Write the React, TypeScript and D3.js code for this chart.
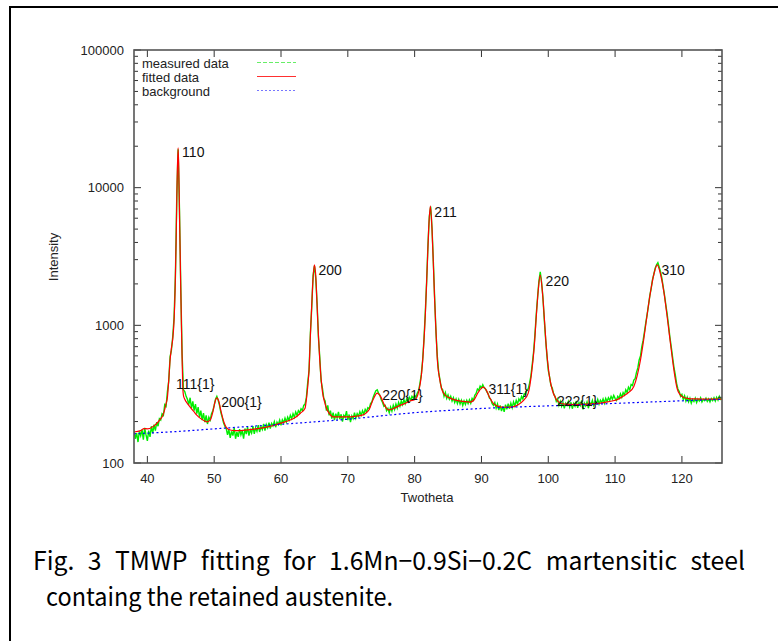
import React from "react";
import * as d3 from "d3";

// ---- data ----
const xTicks = [40, 50, 60, 70, 80, 90, 100, 110, 120];
const yTicks = [100, 1000, 10000, 100000];
const yTickLabels = ["100", "1000", "10000", "100000"];
const legendNames = ["measured data", "fitted data", "background"];

const peakNames = ["110", "200", "211", "220", "310", "111{1}", "200{1}", "220{1}", "311{1}", "222{1}"];
const peakLabelX = [45.2, 65.6, 82.95, 99.6, 116.95, 44.3, 51.05, 75.15, 91.05, 101.3];
const peakLabelY = [16700, 2320, 6120, 1930, 2320, 344, 255, 287, 317, 258];

const background: [number, number][] = [
  [38, 163], [45, 170], [50, 177], [55, 184], [60, 191], [65, 199], [70, 208], [75, 220],
  [80, 232], [85, 241], [90, 249], [95, 255], [100, 260], [105, 265], [110, 271], [115, 277],
  [120, 283], [126, 290],
];

const fitted: [number, number][] = [
  [38, 168], [39, 172], [39.5, 178], [40, 177], [41, 186], [41.5, 196], [42, 210], [42.2, 216],
  [42.5, 235], [42.8, 270], [43, 300], [43.2, 400], [43.4, 560], [43.6, 680], [43.8, 800],
  [44, 1100], [44.15, 1800], [44.3, 4000], [44.45, 11000], [44.6, 19500], [44.7, 14000],
  [44.8, 7000], [44.95, 2500], [45.1, 1000], [45.2, 580], [45.3, 360], [45.4, 310], [45.6, 290],
  [46, 270], [46.4, 255], [47, 235], [47.4, 223], [48, 210], [48.5, 203], [48.9, 199],
  [49.4, 205], [49.8, 235], [50.1, 275], [50.4, 297], [50.7, 280], [51, 240], [51.5, 195],
  [52.1, 176], [53, 172], [54, 172], [55, 174], [56, 176], [57, 179], [58, 183], [59, 188],
  [60, 195], [61, 202], [62, 212], [62.9, 230], [63.6, 250], [63.8, 290], [64, 360], [64.2, 480],
  [64.4, 850], [64.6, 1400], [64.8, 2200], [65, 2750], [65.2, 2300], [65.4, 1400], [65.6, 850],
  [65.8, 560], [66, 410], [66.2, 330], [66.5, 280], [66.8, 250], [67.2, 230], [67.8, 216],
  [68.5, 216], [70, 216], [71, 218], [72, 222], [72.6, 228], [73.2, 245], [73.8, 290],
  [74.4, 322], [74.9, 305], [75.5, 262], [76.1, 243], [76.8, 248], [77.5, 258], [78.5, 270],
  [79.3, 282], [80.1, 290], [80.6, 330], [81, 430], [81.3, 650], [81.6, 1200], [81.9, 2800],
  [82.1, 5000], [82.35, 7350], [82.6, 5000], [82.8, 2800], [83, 1500], [83.2, 900], [83.4, 560],
  [83.7, 420], [84.1, 339], [84.6, 310], [85.3, 296], [86.3, 285], [87.3, 280], [88.3, 277],
  [88.9, 288], [89.5, 325], [90, 350], [90.3, 356], [90.7, 340], [91.2, 300], [91.8, 270],
  [92.5, 258], [93.5, 254], [94.5, 255], [95.5, 265], [96.3, 285], [97, 322], [97.5, 450],
  [97.9, 700], [98.2, 1150], [98.5, 1800], [98.8, 2320], [99.1, 1800], [99.4, 1150],
  [99.7, 700], [100.1, 450], [100.6, 339], [101.2, 290], [101.8, 273], [102.5, 268],
  [104, 266], [106, 268], [107.8, 272], [108.5, 276], [109.5, 282], [110.4, 290], [111.2, 305],
  [112, 325], [112.8, 360], [113.3, 430], [113.8, 560], [114.3, 800], [114.8, 1200],
  [115.3, 1750], [115.8, 2350], [116.3, 2750], [116.8, 2350], [117.3, 1750], [117.8, 1150],
  [118.2, 800], [118.6, 560], [119, 410], [119.3, 345], [119.7, 315], [120.2, 300], [120.8, 295],
  [122, 292], [124, 291], [126, 291],
];

const measured: [number, number][] = [
  [38.0, 172], [38.2, 150], [38.4, 165], [38.6, 142], [38.8, 170], [39.0, 158], [39.2, 175],
  [39.4, 148], [39.6, 180], [39.8, 160], [40.0, 145], [40.2, 172], [40.4, 155], [40.6, 185],
  [40.8, 165], [41.0, 190], [41.2, 172], [41.4, 198], [41.6, 185], [41.8, 210], [42.0, 205],
  [42.2, 228], [42.4, 222], [42.6, 265], [42.8, 258], [43.0, 330], [43.2, 395], [43.4, 590],
  [43.6, 660], [43.8, 830], [44.0, 1150], [44.2, 2300], [44.4, 8500], [44.6, 19000],
  [44.8, 7200], [45.0, 1900], [45.2, 620], [45.4, 340], [45.6, 330], [45.8, 305], [46.0, 290],
  [46.2, 265], [46.4, 298], [46.6, 250], [46.8, 280], [47.0, 240], [47.2, 268], [47.4, 228],
  [47.6, 255], [47.8, 215], [48.0, 240], [48.2, 205], [48.4, 230], [48.6, 198], [48.8, 222],
  [49.0, 192], [49.2, 215], [49.4, 205], [49.6, 228], [49.8, 240], [50.0, 262], [50.2, 290],
  [50.4, 305], [50.6, 285], [50.8, 262], [51.0, 232], [51.2, 215], [51.4, 196], [51.6, 185],
  [51.8, 178], [52.0, 160], [52.2, 175], [52.4, 152], [52.6, 170], [52.8, 158], [53.0, 180],
  [53.2, 150], [53.4, 168], [53.6, 155], [53.8, 176], [54.0, 160], [54.2, 172], [54.4, 150],
  [54.6, 178], [54.8, 162], [55.0, 182], [55.2, 158], [55.4, 174], [55.6, 165], [55.8, 185],
  [56.0, 163], [56.2, 180], [56.4, 170], [56.6, 188], [56.8, 168], [57.0, 184], [57.2, 175],
  [57.4, 192], [57.6, 172], [57.8, 190], [58.0, 180], [58.2, 196], [58.4, 178], [58.6, 194],
  [58.8, 186], [59.0, 200], [59.2, 182], [59.4, 198], [59.6, 190], [59.8, 205], [60.0, 188],
  [60.2, 206], [60.4, 196], [60.6, 212], [60.8, 198], [61.0, 215], [61.2, 204], [61.4, 222],
  [61.6, 210], [61.8, 228], [62.0, 215], [62.2, 235], [62.4, 222], [62.6, 240], [62.8, 232],
  [63.0, 248], [63.2, 240], [63.4, 262], [63.6, 268], [63.8, 300], [64.0, 385], [64.2, 470],
  [64.4, 880], [64.6, 1350], [64.8, 2300], [65.0, 2700], [65.2, 2200], [65.4, 1450],
  [65.6, 820], [65.8, 590], [66.0, 395], [66.2, 350], [66.4, 295], [66.6, 282], [66.8, 240],
  [67.0, 262], [67.2, 222], [67.4, 240], [67.6, 210], [67.8, 232], [68.0, 205], [68.2, 228],
  [68.4, 212], [68.6, 235], [68.8, 208], [69.0, 226], [69.2, 200], [69.4, 222], [69.6, 215],
  [69.8, 238], [70.0, 205], [70.2, 225], [70.4, 198], [70.6, 220], [70.8, 210], [71.0, 232],
  [71.2, 212], [71.4, 228], [71.6, 218], [71.8, 236], [72.0, 222], [72.2, 240], [72.4, 226],
  [72.6, 245], [72.8, 235], [73.0, 252], [73.2, 248], [73.4, 270], [73.6, 278], [73.8, 300],
  [74.0, 318], [74.2, 335], [74.4, 340], [74.6, 322], [74.8, 310], [75.0, 288], [75.2, 275],
  [75.4, 258], [75.6, 262], [75.8, 240], [76.0, 250], [76.2, 232], [76.4, 255], [76.6, 238],
  [76.8, 262], [77.0, 245], [77.2, 268], [77.4, 250], [77.6, 275], [77.8, 258], [78.0, 282],
  [78.2, 265], [78.4, 288], [78.6, 270], [78.8, 292], [79.0, 278], [79.2, 300], [79.4, 286],
  [79.6, 305], [79.8, 295], [80.0, 310], [80.2, 300], [80.4, 322], [80.6, 335], [80.8, 380],
  [81.0, 440], [81.2, 560], [81.4, 800], [81.6, 1250], [81.8, 2100], [82.0, 3900],
  [82.2, 6200], [82.4, 7300], [82.6, 5100], [82.8, 2900], [83.0, 1550], [83.2, 880],
  [83.4, 590], [83.6, 455], [83.8, 400], [84.0, 350], [84.2, 340], [84.4, 305], [84.6, 325],
  [84.8, 295], [85.0, 312], [85.2, 290], [85.4, 305], [85.6, 282], [85.8, 298], [86.0, 275],
  [86.2, 292], [86.4, 270], [86.6, 290], [86.8, 268], [87.0, 285], [87.2, 262], [87.4, 282],
  [87.6, 266], [87.8, 285], [88.0, 270], [88.2, 288], [88.4, 272], [88.6, 295], [88.8, 285],
  [89.0, 310], [89.2, 320], [89.4, 345], [89.6, 338], [89.8, 362], [90.0, 350], [90.2, 370],
  [90.4, 352], [90.6, 345], [90.8, 330], [91.0, 318], [91.2, 296], [91.4, 290], [91.6, 270],
  [91.8, 262], [92.0, 275], [92.2, 250], [92.4, 268], [92.6, 242], [92.8, 262], [93.0, 238],
  [93.2, 258], [93.4, 235], [93.6, 265], [93.8, 245], [94.0, 270], [94.2, 248], [94.4, 272],
  [94.6, 252], [94.8, 278], [95.0, 260], [95.2, 285], [95.4, 268], [95.6, 292], [95.8, 280],
  [96.0, 305], [96.2, 292], [96.4, 318], [96.6, 315], [96.8, 340], [97.0, 345], [97.2, 380],
  [97.4, 430], [97.6, 520], [97.8, 640], [98.0, 850], [98.2, 1200], [98.4, 1600],
  [98.6, 2100], [98.8, 2450], [99.0, 2050], [99.2, 1600], [99.4, 1100], [99.6, 800],
  [99.8, 600], [100.0, 470], [100.2, 420], [100.4, 365], [100.6, 350], [100.8, 318],
  [101.0, 305], [101.2, 280], [101.4, 292], [101.6, 262], [101.8, 280], [102.0, 258],
  [102.2, 275], [102.4, 250], [102.6, 272], [102.8, 262], [103.0, 280], [103.2, 255],
  [103.4, 276], [103.6, 248], [103.8, 270], [104.0, 258], [104.2, 282], [104.4, 252],
  [104.6, 275], [104.8, 262], [105.0, 285], [105.2, 245], [105.4, 272], [105.6, 260],
  [105.8, 278], [106.0, 250], [106.2, 275], [106.4, 265], [106.6, 285], [106.8, 262],
  [107.0, 280], [107.2, 270], [107.4, 290], [107.6, 268], [107.8, 286], [108.0, 275],
  [108.2, 292], [108.4, 272], [108.6, 295], [108.8, 280], [109.0, 298], [109.2, 285],
  [109.4, 305], [109.6, 290], [109.8, 310], [110.0, 295], [110.2, 285], [110.4, 305],
  [110.6, 295], [110.8, 318], [111.0, 300], [111.2, 325], [111.4, 312], [111.6, 340],
  [111.8, 325], [112.0, 355], [112.2, 340], [112.4, 372], [112.6, 365], [112.8, 400],
  [113.0, 410], [113.2, 455], [113.4, 490], [113.6, 560], [113.8, 600], [114.0, 700],
  [114.2, 780], [114.4, 900], [114.6, 1050], [114.8, 1200], [115.0, 1400], [115.2, 1650],
  [115.4, 1850], [115.6, 2150], [115.8, 2350], [116.0, 2600], [116.2, 2750], [116.4, 2850],
  [116.6, 2650], [116.8, 2450], [117.0, 2200], [117.2, 1900], [117.4, 1650], [117.6, 1400],
  [117.8, 1200], [118.0, 1000], [118.2, 820], [118.4, 700], [118.6, 590], [118.8, 500],
  [119.0, 440], [119.2, 380], [119.4, 345], [119.6, 330], [119.8, 305], [120.0, 315],
  [120.2, 290], [120.4, 308], [120.6, 282], [120.8, 300], [121.0, 278], [121.2, 295],
  [121.4, 272], [121.6, 290], [121.8, 280], [122.0, 296], [122.2, 275], [122.4, 292],
  [122.6, 282], [122.8, 298], [123.0, 278], [123.2, 290], [123.4, 284], [123.6, 296],
  [123.8, 280], [124.0, 292], [124.2, 278], [124.4, 294], [124.6, 284], [124.8, 298],
  [125.0, 282], [125.2, 300], [125.4, 286], [125.6, 305], [125.8, 290], [126.0, 296],
];

const captionLine1 = "Fig. 3 TMWP fitting for 1.6Mn\u22120.9Si\u22120.2C martensitic steel";
const captionLine2 = "containg the retained austenite.";
const xAxisTitle = "Twotheta";
const yAxisTitle = "Intensity";

export default function App() {
  const W = 778;
  const H = 641;
  const left = 134, right = 722, top = 50, bottom = 463;
  const x = d3.scaleLinear().domain([38, 126]).range([left, right]);
  const y = d3.scaleLog().domain([100, 100000]).range([bottom, top]);

  const lineLinear = d3.line<[number, number]>().x((d) => x(d[0])).y((d) => y(d[1]));
  const lineSmooth = d3
    .line<[number, number]>()
    .x((d) => x(d[0]))
    .y((d) => y(d[1]))
    .curve(d3.curveMonotoneX);

  const minorTicks: number[] = [];
  for (let d = 2; d < 5; d++) {
    for (let k = 2; k <= 9; k++) minorTicks.push(k * Math.pow(10, d));
  }

  const font = "'Liberation Sans', Arial, sans-serif";
  const axisColor = "#555";
  const green = "#00ee00";
  const red = "#ff0000";
  const blue = "#0000ff";
  const legendStyles = [
    { stroke: "#66ee66", dash: "4,2", width: 1.2 },
    { stroke: "#ff3030", dash: "none", width: 1.2 },
    { stroke: "#7777ff", dash: "2,2", width: 1.2 },
  ];

  return (
    <svg
      width={W}
      height={H}
      style={{ position: "absolute", left: 0, top: 0, background: "#fff" }}
    >
      <rect x={0} y={0} width={W} height={H} fill="#fff" />
      {/* outer frame */}
      <rect x={10} y={7} width={W + 20} height={H + 20} fill="none" stroke="#000" strokeWidth={2} />

      <defs>
        <clipPath id="plotClip">
          <rect x={left} y={top} width={right - left} height={bottom - top} />
        </clipPath>
      </defs>

      {/* data */}
      <g clipPath="url(#plotClip)">
        <path d={lineLinear(measured) || ""} fill="none" stroke={green} strokeWidth={1.4} />
        <path d={lineSmooth(fitted) || ""} fill="none" stroke={red} strokeWidth={1.2} />
        <path
          d={lineSmooth(background) || ""}
          fill="none"
          stroke={blue}
          strokeWidth={1.2}
          strokeDasharray="2,2.5"
        />
      </g>

      {/* ticks */}
      <g stroke="#333" strokeWidth={1}>
        {yTicks.map((t) => (
          <g key={"yt" + t}>
            <line x1={left} x2={left + 7} y1={y(t)} y2={y(t)} />
            <line x1={right} x2={right - 7} y1={y(t)} y2={y(t)} />
          </g>
        ))}
        {minorTicks.map((t) => (
          <g key={"ym" + t}>
            <line x1={left} x2={left + 4} y1={y(t)} y2={y(t)} />
            <line x1={right} x2={right - 4} y1={y(t)} y2={y(t)} />
          </g>
        ))}
        {xTicks.map((t) => (
          <g key={"xt" + t}>
            <line x1={x(t)} x2={x(t)} y1={bottom} y2={bottom - 7} />
            <line x1={x(t)} x2={x(t)} y1={top} y2={top + 7} />
          </g>
        ))}
      </g>

      {/* axes frame */}
      <rect
        x={left}
        y={top}
        width={right - left}
        height={bottom - top}
        fill="none"
        stroke={axisColor}
        strokeWidth={1.6}
      />

      {/* tick labels */}
      <g fontFamily={font} fontSize={13} fill="#222">
        {yTicks.map((t, i) => (
          <text key={"yl" + t} x={124} y={y(t)} dy="0.36em" textAnchor="end">
            {yTickLabels[i]}
          </text>
        ))}
        {xTicks.map((t) => (
          <text key={"xl" + t} x={x(t)} y={482.5} textAnchor="middle">
            {t}
          </text>
        ))}
        <text x={427} y={502} textAnchor="middle">
          {xAxisTitle}
        </text>
        <text transform={`translate(57.5,257) rotate(-90)`} textAnchor="middle">
          {yAxisTitle}
        </text>
      </g>

      {/* legend */}
      <g fontFamily={font} fontSize={13} fill="#222">
        {legendNames.map((n, i) => (
          <g key={n}>
            <text x={142} y={67.5 + i * 14}>
              {n}
            </text>
            <line
              x1={257}
              x2={296}
              y1={62.5 + i * 14}
              y2={62.5 + i * 14}
              stroke={legendStyles[i].stroke}
              strokeWidth={legendStyles[i].width}
              strokeDasharray={legendStyles[i].dash}
            />
          </g>
        ))}
      </g>

      {/* peak labels */}
      <g fontFamily={font} fontSize={14} fill="#111">
        {peakNames.map((n, i) => (
          <text key={n} x={x(peakLabelX[i])} y={y(peakLabelY[i])}>
            {n}
          </text>
        ))}
      </g>

      {/* caption */}
      <g fontFamily="'Noto Sans CJK JP', 'Noto Sans', sans-serif" fontSize={25} fill="#000">
        <text x={33} y={570} textLength={712} lengthAdjust="spacingAndGlyphs" wordSpacing={8}>
          {captionLine1}
        </text>
        <text x={46} y={606} textLength={347} lengthAdjust="spacingAndGlyphs">
          {captionLine2}
        </text>
      </g>
    </svg>
  );
}
